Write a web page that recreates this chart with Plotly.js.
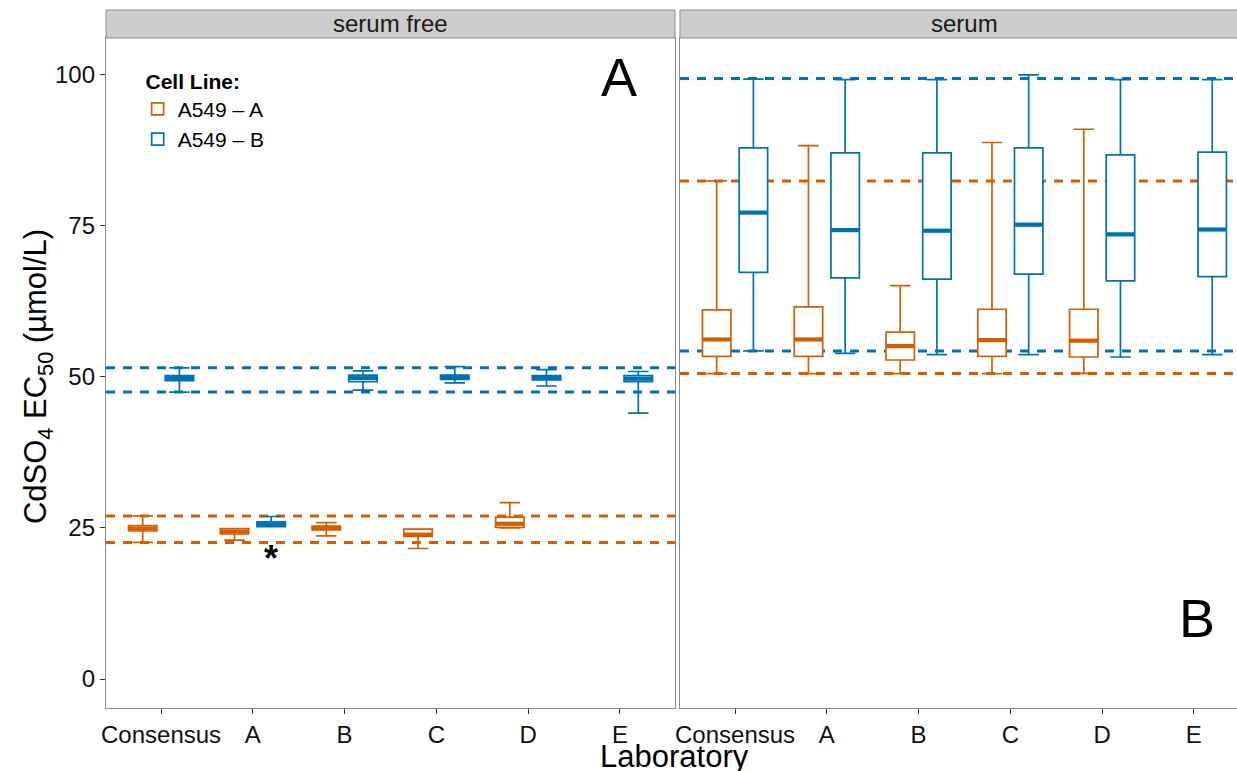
<!DOCTYPE html>
<html>
<head>
<meta charset="utf-8">
<script src="https://cdn.plot.ly/plotly-3.0.1.min.js"></script>
<style>html,body{margin:0;padding:0;background:#fff;}#chart{width:1237px;height:771px;}</style>
</head>
<body>
<div id="chart"></div>
<script>
// ---------- data ----------
const labs = ["Consensus", "A", "B", "C", "D", "E"];

// serum free, A549 - A (orange)
const sfA_labs = ["Consensus", "A", "B", "C", "D"];
const sfA_low  = [22.6, 23.0, 23.7, 21.6, 25.0];
const sfA_q1   = [24.5, 24.0, 24.7, 23.6, 25.1];
const sfA_med  = [24.9, 24.4, 25.0, 23.9, 25.7];
const sfA_q3   = [25.4, 24.9, 25.3, 24.8, 26.8];
const sfA_up   = [27.0, 24.9, 25.9, 24.8, 29.2];

// serum free, A549 - B (blue)
const sfB_labs = ["Consensus", "A", "B", "C", "D", "E"];
const sfB_low  = [47.5, 25.2, 47.8, 49.0, 48.5, 44.0];
const sfB_q1   = [49.4, 25.2, 49.2, 49.6, 49.5, 49.2];
const sfB_med  = [49.8, 25.6, 49.8, 50.0, 49.9, 49.7];
const sfB_q3   = [50.2, 26.0, 50.3, 50.3, 50.2, 50.2];
const sfB_up   = [51.5, 26.9, 51.0, 51.7, 51.2, 50.9];

// serum, A549 - A (orange)
const sA_labs = ["Consensus", "A", "B", "C", "D"];
const sA_low  = [50.55, 50.55, 50.55, 50.55, 50.6];
const sA_q1   = [53.4, 53.4, 52.8, 53.4, 53.3];
const sA_med  = [56.2, 56.2, 55.1, 56.1, 56.0];
const sA_q3   = [61.1, 61.6, 57.4, 61.2, 61.2];
const sA_up   = [82.45, 88.3, 65.1, 88.8, 91.0];

// serum, A549 - B (blue)
const sB_labs = ["Consensus", "A", "B", "C", "D", "E"];
const sB_low  = [54.3, 53.9, 53.7, 53.7, 53.3, 53.7];
const sB_q1   = [67.3, 66.4, 66.2, 67.0, 65.9, 66.6];
const sB_med  = [77.2, 74.3, 74.2, 75.2, 73.6, 74.4];
const sB_q3   = [87.9, 87.1, 87.1, 87.9, 86.75, 87.2];
const sB_up   = [99.3, 99.2, 99.2, 100.0, 99.2, 99.2];

// consensus limits (dashed lines)
const sfA_limits = [22.6, 27.0];
const sfB_limits = [47.5, 51.5];
const sA_limits  = [50.55, 82.45];
const sB_limits  = [54.3, 99.4];

const seriesNames = ["A549 \u2013 A", "A549 \u2013 B"];
const panelNames = ["serum free", "serum"];
const yTicks = [0, 25, 50, 75, 100];

// ---------- style ----------
const ORANGE = "#D55E00", BLUE = "#0072B2";
const FONT = "Liberation Sans, Arial, sans-serif";
const OFFSET = 0.2, BOXW = 0.31;

function pos(labList, off) { return labList.map(l => labs.indexOf(l) + 1 + off); }

function boxTrace(labList, low, q1, med, q3, up, color, off, xa, ya, name, showLeg) {
  return {
    type: "box", name: name, legendgroup: name, showlegend: showLeg,
    x: pos(labList, off), lowerfence: low, q1: q1, median: med, q3: q3, upperfence: up,
    width: BOXW, whiskerwidth: 0.72, boxpoints: false,
    line: {color: color, width: 1.7}, fillcolor: "#ffffff",
    xaxis: xa, yaxis: ya, hoverinfo: "skip"
  };
}
function medTrace(labList, med, color, off, xa, ya, name) {
  const xs = [], ys = [];
  pos(labList, off).forEach((p, i) => { xs.push(p - BOXW / 2, p + BOXW / 2, null); ys.push(med[i], med[i], null); });
  return {type: "scatter", mode: "lines", x: xs, y: ys, line: {color: color, width: 4.2},
    xaxis: xa, yaxis: ya, showlegend: false, legendgroup: name, hoverinfo: "skip"};
}

const data = [
  boxTrace(sfA_labs, sfA_low, sfA_q1, sfA_med, sfA_q3, sfA_up, ORANGE, -OFFSET, "x", "y", seriesNames[0], true),
  boxTrace(sfB_labs, sfB_low, sfB_q1, sfB_med, sfB_q3, sfB_up, BLUE, OFFSET, "x", "y", seriesNames[1], true),
  boxTrace(sA_labs, sA_low, sA_q1, sA_med, sA_q3, sA_up, ORANGE, -OFFSET, "x2", "y2", seriesNames[0], false),
  boxTrace(sB_labs, sB_low, sB_q1, sB_med, sB_q3, sB_up, BLUE, OFFSET, "x2", "y2", seriesNames[1], false),
  medTrace(sfA_labs, sfA_med, ORANGE, -OFFSET, "x", "y", seriesNames[0]),
  medTrace(sfB_labs, sfB_med, BLUE, OFFSET, "x", "y", seriesNames[1]),
  medTrace(sA_labs, sA_med, ORANGE, -OFFSET, "x2", "y2", seriesNames[0]),
  medTrace(sB_labs, sB_med, BLUE, OFFSET, "x2", "y2", seriesNames[1])
];

function hlines(vals, color, xa, ya) {
  return vals.map(v => ({type: "line", layer: "below", xref: xa + " domain", yref: ya,
    x0: 0, x1: 1, y0: v, y1: v, line: {color: color, width: 3, dash: "9px,8px"}}));
}

const D1 = [0, 0.5031], D2 = [0.5075, 1];
const stripTop = 1.0418;
const shapes = [].concat(
  hlines(sfA_limits, ORANGE, "x", "y"), hlines(sfB_limits, BLUE, "x", "y"),
  hlines(sA_limits, ORANGE, "x2", "y2"), hlines(sB_limits, BLUE, "x2", "y2"),
  [
    {type: "rect", xref: "paper", yref: "paper", x0: D1[0], x1: D1[1], y0: 1, y1: stripTop,
     fillcolor: "#cccccc", line: {color: "#8c8c8c", width: 1}},
    {type: "rect", xref: "paper", yref: "paper", x0: D2[0], x1: D2[1] + 0.01, y0: 1, y1: stripTop,
     fillcolor: "#cccccc", line: {color: "#8c8c8c", width: 1}}
  ]);

const xBase = {
  tickmode: "array", tickvals: labs.map((l, i) => i + 1), ticktext: labs,
  ticks: "outside", ticklen: 5, tickcolor: "#333333", tickwidth: 1,
  showline: true, linecolor: "#8c8c8c", linewidth: 1.2, mirror: true,
  showgrid: false, zeroline: false, tickfont: {family: FONT, size: 24, color: "#111"}
};

const layout = {
  width: 1237, height: 771,
  margin: {l: 106, r: 0, t: 38, b: 63},
  paper_bgcolor: "#ffffff", plot_bgcolor: "#ffffff",
  font: {family: FONT, color: "#000"},
  xaxis: Object.assign({}, xBase, {domain: D1, range: [0.4, 6.6], anchor: "y"}),
  xaxis2: Object.assign({}, xBase, {domain: D2, range: [0.4, 6.47], anchor: "y2", mirror: "allticks"}),
  yaxis: {
    domain: [0, 1], range: [-4.8, 106.1], tickmode: "array", tickvals: yTicks,
    ticks: "outside", ticklen: 5, tickcolor: "#333333",
    showline: true, linecolor: "#8c8c8c", linewidth: 1.2, mirror: true,
    showgrid: false, zeroline: false, tickfont: {family: FONT, size: 24, color: "#111"},
    anchor: "x"
  },
  yaxis2: {
    domain: [0, 1], matches: "y", range: [-4.8, 106.1], anchor: "x2",
    showticklabels: false, ticks: "", showline: true, linecolor: "#8c8c8c", linewidth: 1.2, mirror: false,
    showgrid: false, zeroline: false
  },
  showlegend: true,
  legend: {
    x: 0.028, y: 0.965, xanchor: "left", yanchor: "top", bgcolor: "rgba(0,0,0,0)",
    title: {text: "&nbsp;<b>Cell Line:</b>", font: {family: FONT, size: 21, color: "#000"}},
    font: {family: FONT, size: 21, color: "#000"}, tracegroupgap: 0, itemwidth: 30
  },
  shapes: shapes,
  annotations: [
    {xref: "paper", yref: "paper", x: (D1[0] + D1[1]) / 2, y: (1 + stripTop) / 2, text: panelNames[0],
     showarrow: false, xanchor: "center", yanchor: "middle", font: {family: FONT, size: 24, color: "#1a1a1a"}},
    {xref: "paper", yref: "paper", x: 0.7595, y: (1 + stripTop) / 2, text: panelNames[1],
     showarrow: false, xanchor: "center", yanchor: "middle", font: {family: FONT, size: 24, color: "#1a1a1a"}},
    {xref: "paper", yref: "paper", x: 0.5025, y: -0.072, text: "Laboratory", showarrow: false,
     xanchor: "center", yanchor: "middle", font: {family: FONT, size: 31, color: "#000"}},
    {xref: "paper", yref: "paper", x: -0.0601, y: 0.494, text: "CdSO<sub>4</sub> EC<sub>50</sub> (\u00b5mol/L)",
     textangle: -90, showarrow: false, xanchor: "center", yanchor: "middle",
     font: {family: FONT, size: 31, color: "#000"}},
    {xref: "x domain", yref: "y domain", x: 0.9016, y: 0.9418, text: "A", showarrow: false,
     xanchor: "center", yanchor: "middle", font: {family: FONT, size: 54, color: "#000"}},
    {xref: "x2 domain", yref: "y2 domain", x: 0.928, y: 0.134, text: "B", showarrow: false,
     xanchor: "center", yanchor: "middle", font: {family: FONT, size: 54, color: "#000"}},
    {xref: "x", yref: "y", x: labs.indexOf("A") + 1 + OFFSET, y: 20.0, text: "<b>*</b>", showarrow: false,
     xanchor: "center", yanchor: "middle", font: {family: FONT, size: 36, color: "#000"}}
  ]
};

Plotly.newPlot("chart", data, layout, {staticPlot: true, displayModeBar: false});
</script>
</body>
</html>
